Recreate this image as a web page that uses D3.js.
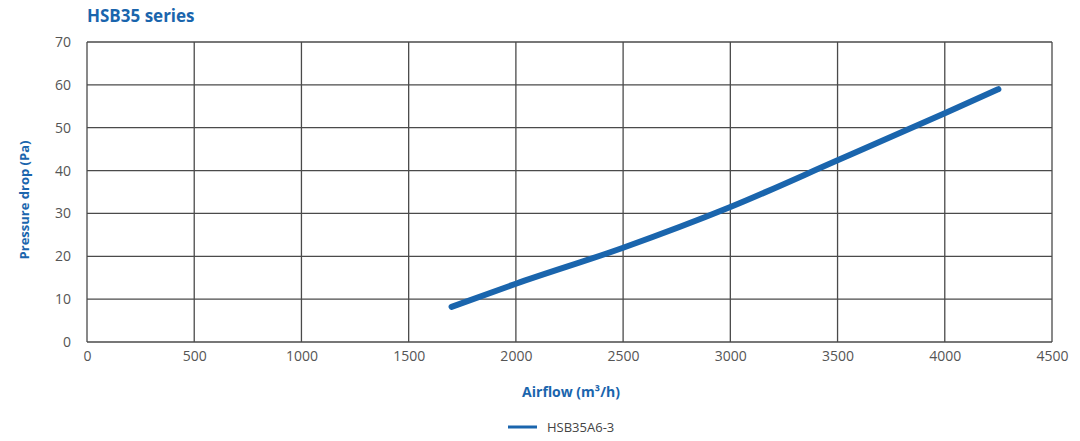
<!DOCTYPE html>
<html>
<head>
<meta charset="utf-8">
<script src="https://cdn.jsdelivr.net/npm/d3@7"></script>
<style>
  body { margin: 0; background: #fff; }
  text { font-family: "Open Sans", "Liberation Sans", sans-serif; }
</style>
</head>
<body>
<svg id="chart" width="1080" height="441"></svg>
<script>
const airflow = [1700, 2000, 2500, 3000, 3500, 4000, 4250];
const pressure = [8.2, 13.6, 22, 31.5, 42.4, 53.4, 59];
const xTicks = [0, 500, 1000, 1500, 2000, 2500, 3000, 3500, 4000, 4500];
const yTicks = [0, 10, 20, 30, 40, 50, 60, 70];
const seriesName = "HSB35A6-3";

const margin = { top: 42, right: 28, bottom: 99, left: 87 };
const width = 1080 - margin.left - margin.right;
const height = 441 - margin.top - margin.bottom;
const blue = "#1a65ad";

const svg = d3.select("#chart");
const g = svg.append("g").attr("transform", `translate(${margin.left},${margin.top})`);

const x = d3.scaleLinear().domain([0, 4500]).range([0, width]);
const y = d3.scaleLinear().domain([0, 70]).range([height, 0]);

// grid
g.selectAll(".vgrid")
    .data(xTicks)
    .enter().append("line")
    .attr("x1", d => x(d)).attr("x2", d => x(d))
    .attr("y1", 0).attr("y2", height)
    .attr("stroke", "#4a4a4a").attr("stroke-width", 1.3);

g.selectAll(".hgrid")
    .data(yTicks)
    .enter().append("line")
    .attr("x1", 0).attr("x2", width)
    .attr("y1", d => y(d)).attr("y2", d => y(d))
    .attr("stroke", "#4a4a4a").attr("stroke-width", 1.3);

// axes (labels only)
const xAxis = g.append("g")
    .attr("transform", `translate(0,${height})`)
    .call(d3.axisBottom(x).tickValues(xTicks).tickSize(0).tickPadding(9).tickFormat(d3.format("d")));
const yAxis = g.append("g")
    .call(d3.axisLeft(y).tickValues(yTicks).tickSize(0).tickPadding(16));
[xAxis, yAxis].forEach(a => {
    a.select(".domain").remove();
    a.selectAll("text").attr("fill", "#555").style("font-size", "14px");
});

// line
const line = d3.line()
    .x((d, i) => x(airflow[i]))
    .y(d => y(d))
    .curve(d3.curveMonotoneX);

g.append("path")
    .datum(pressure)
    .attr("d", line)
    .attr("fill", "none")
    .attr("stroke", blue)
    .attr("stroke-width", 6)
    .attr("stroke-linecap", "round");

// titles
svg.append("text")
    .attr("x", 87).attr("y", 22)
    .attr("fill", blue)
    .style("font-size", "17px").style("font-weight", "bold")
    .text("HSB35 series");

svg.append("text")
    .attr("transform", `translate(29,${margin.top + height / 2 + 8}) rotate(-90)`)
    .attr("text-anchor", "middle")
    .attr("fill", blue)
    .style("font-size", "13px").style("font-weight", "bold")
    .text("Pressure drop (Pa)");

svg.append("text")
    .attr("x", 571).attr("y", 397)
    .attr("text-anchor", "middle")
    .attr("fill", blue)
    .style("font-size", "14px").style("font-weight", "bold")
    .text("Airflow (m³/h)");

// legend
const legend = svg.append("g").attr("transform", "translate(508,427)");
legend.append("line")
    .attr("x1", 0).attr("x2", 29)
    .attr("stroke", blue).attr("stroke-width", 3);
legend.append("text")
    .attr("x", 39).attr("y", 5)
    .attr("fill", "#444")
    .style("font-size", "13px")
    .text(seriesName);
</script>
</body>
</html>
